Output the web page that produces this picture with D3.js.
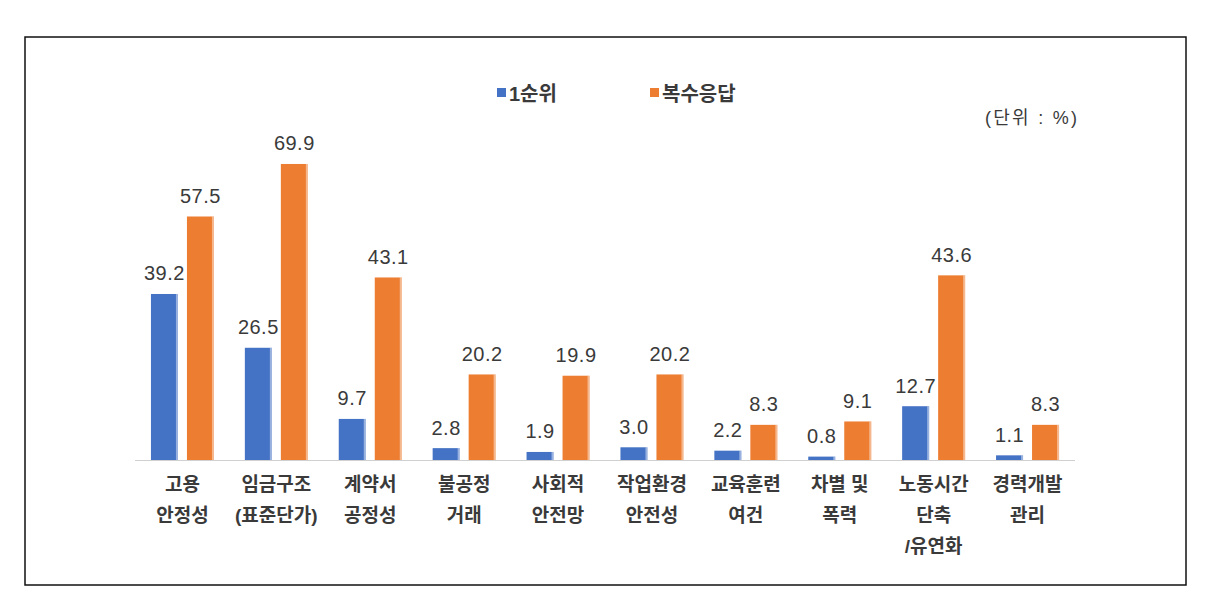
<!DOCTYPE html>
<html><head><meta charset="utf-8">
<script src="https://cdn.jsdelivr.net/npm/d3@7"></script>
<style>
html,body{margin:0;padding:0;background:#fff;}
svg text{font-family:"Liberation Sans","Noto Sans CJK KR",sans-serif;}
</style></head>
<body><svg id="c" width="1227" height="616"></svg>
<script>
const categories = [
  ["고용","안정성"],
  ["임금구조","(표준단가)"],
  ["계약서","공정성"],
  ["불공정","거래"],
  ["사회적","안전망"],
  ["작업환경","안전성"],
  ["교육훈련","여건"],
  ["차별 및","폭력"],
  ["노동시간","단축","/유연화"],
  ["경력개발","관리"]
];
const firstRank = [39.2, 26.5, 9.7, 2.8, 1.9, 3.0, 2.2, 0.8, 12.7, 1.1];
const multiResp = [57.5, 69.9, 43.1, 20.2, 19.9, 20.2, 8.3, 9.1, 43.6, 8.3];
const seriesNames = ["1순위", "복수응답"];
const colors = ["#4472C4", "#ED7D31"];
const unitLabel = "(단위 : %)";

const svg = d3.select("#c");
svg.append("rect").attr("x",25).attr("y",37).attr("width",1161).attr("height",548)
  .attr("fill","#fff").attr("stroke","#111").attr("stroke-width",1.5);

const x0 = d3.scaleBand().domain(d3.range(categories.length)).range([135.5,1074.5]);
const y = d3.scaleLinear().domain([0,80]).range([460,121.2]);
const barW = 27, gap = 9;
const offs = [-(gap/2+barW), gap/2];

const data = [firstRank, multiResp];
data.forEach((vals, si) => {
  const g = svg.append("g");
  g.selectAll("rect.b").data(vals).enter().append("rect")
    .attr("x",(d,i)=>x0(i)+x0.bandwidth()/2+offs[si])
    .attr("y",d=>y(d)).attr("width",barW).attr("height",d=>y(0)-y(d))
    .attr("fill",colors[si]);
  g.selectAll("rect.e").data(vals).enter().append("rect")
    .attr("x",(d,i)=>x0(i)+x0.bandwidth()/2+offs[si]+barW-2)
    .attr("y",d=>y(d)).attr("width",2).attr("height",d=>y(0)-y(d))
    .attr("fill","#fff").attr("opacity",0.45);
  g.selectAll("text").data(vals).enter().append("text")
    .attr("x",(d,i)=>x0(i)+x0.bandwidth()/2+offs[si]+barW/2)
    .attr("y",d=>y(d)-13.5)
    .attr("text-anchor","middle").attr("font-size",20).attr("letter-spacing",0.5)
    .attr("fill","#3a3a3a")
    .text(d=>d3.format(".1f")(d));
});

svg.append("line").attr("x1",135).attr("x2",1075).attr("y1",y(0)+0.5).attr("y2",y(0)+0.5)
  .attr("stroke","#d0d0d0").attr("stroke-width",1.2);

const cg = svg.append("g");
categories.forEach((lines,i)=>{
  const t = cg.append("text").attr("text-anchor","middle").attr("font-size",19)
    .attr("fill","#3a3a3a").attr("font-weight","bold");
  lines.forEach((ln,j)=>{
    t.append("tspan").attr("x",x0(i)+x0.bandwidth()/2).attr("y",491+j*31).text(ln);
  });
});

const legX = [497, 650];
seriesNames.forEach((n,i)=>{
  svg.append("rect").attr("x",legX[i]).attr("y",88).attr("width",9).attr("height",9).attr("fill",colors[i]);
  svg.append("text").attr("x",legX[i]+12).attr("y",101).attr("font-size",20).attr("font-weight","bold")
    .attr("fill","#3a3a3a").text(n);
});
svg.append("text").attr("x",985).attr("y",124).attr("font-size",18).attr("fill","#3a3a3a")
  .attr("textLength",92).attr("lengthAdjust","spacing").text(unitLabel);
</script></body></html>
